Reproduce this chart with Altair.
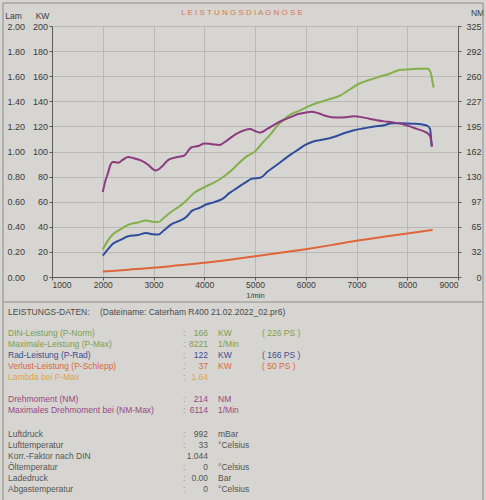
import altair as alt
import pandas as pd

# ---- Leistungskurven (Drehzahl in 1/min, Leistung in KW) ----
rpm_din = [2000, 2100, 2200, 2350, 2500, 2700, 2850, 3000, 3100, 3200, 3350, 3500,
           3650, 3800, 3950, 4100, 4250, 4400, 4550, 4700, 4850, 5000, 5150, 5300,
           5450, 5600, 5750, 5900, 6050, 6250, 6450, 6650, 6850, 7050, 7250, 7450,
           7650, 7850, 8050, 8221, 8400, 8460, 8500, 8520]
din_kw = [22, 29, 34, 38, 41.5, 43.5, 45, 44, 43.8, 47, 52, 56,
          61, 67, 70.5, 73.5, 76.5, 80.5, 85.5, 91.5, 96.5, 100, 107, 113.5,
          121, 126.5, 130.5, 133, 136, 139, 141.5, 144, 149, 154, 157, 159.5,
          162, 165, 165.5, 166, 166, 163, 155, 151]

rpm_rad = [2000, 2100, 2200, 2350, 2500, 2700, 2850, 3000, 3100, 3200, 3350, 3500,
           3650, 3750, 3900, 4050, 4200, 4350, 4500, 4650, 4800, 4950, 5100, 5250,
           5400, 5550, 5700, 5850, 6000, 6150, 6350, 6550, 6750, 6950, 7150, 7350,
           7550, 7700, 7900, 8100, 8300, 8400, 8450, 8480]
rad_kw = [17, 22, 26.5, 29.5, 32.5, 33.5, 35, 34, 33.8, 37, 42, 44.5,
          48, 52.5, 55, 58, 59.7, 62, 67, 71, 75, 78.5, 79, 84,
          88.5, 93, 97.5, 101.5, 105.5, 108, 109.5, 111.5, 114.5, 117, 118.5, 120,
          121, 122.5, 122.5, 122.2, 121.5, 120.5, 118, 104]

rpm_loss = [2000, 2500, 3000, 3500, 4000, 4500, 5000, 5500, 6000, 6500, 7000, 7500, 8000, 8500]
loss_kw = [4.3, 5.8, 7.3, 9.3, 11.3, 13.8, 16.6, 19.3, 22.2, 25.4, 28.8, 31.8, 34.6, 37.5]

# ---- Drehmoment (NM) ----
rpm_nm = [2000, 2050, 2100, 2150, 2200, 2300, 2400, 2500, 2600, 2750, 2900, 3000,
          3050, 3150, 3300, 3450, 3600, 3750, 3900, 4000, 4150, 4300, 4450, 4600,
          4750, 4900, 5000, 5100, 5250, 5400, 5550, 5700, 5850, 6000, 6114, 6250,
          6400, 6600, 6800, 6950, 7100, 7250, 7400, 7550, 7700, 7900, 8050, 8200,
          8350, 8420, 8460, 8490]
torque_nm = [110, 124, 134, 145, 149, 148, 152, 155.5, 154, 151, 145, 139,
             138, 142, 152, 155, 157, 168, 170, 173, 172, 171, 177, 184,
             189, 191.5, 189, 187, 192, 198, 203, 207, 211, 213, 214, 212,
             208.5, 206.5, 207, 208, 207, 205, 203, 201.5, 200.5, 198, 195, 191.5,
             188, 185, 180, 169]

# ---- Achsenteilung ----
rpm_ticks = [1000, 2000, 3000, 4000, 5000, 6000, 7000, 8000, 9000]
kw_ticks = [0, 20, 40, 60, 80, 100, 120, 140, 160, 180, 200]
lam_ticks = [0.0, 0.2, 0.4, 0.6, 0.8, 1.0, 1.2, 1.4, 1.6, 1.8, 2.0]
nm_ticks = [0, 32.5, 65, 97.5, 130, 162.5, 195, 227.5, 260, 292.5, 325]

# ---- Leistungs-Daten ----
data_labels = ["DIN-Leistung (P-Norm)", "Maximale-Leistung (P-Max)", "Rad-Leistung (P-Rad)",
               "Verlust-Leistung (P-Schlepp)", "Lambda bei P-Max",
               "Drehmoment (NM)", "Maximales Drehmoment bei (NM-Max)",
               "Luftdruck", "Lufttemperatur", "Korr.-Faktor nach DIN", "Öltemperatur",
               "Ladedruck", "Abgastemperatur"]
data_values = ["166", "8221", "122", "37", "1.64",
               "214", "6114",
               "992", "33", "1.044", "0", "0.00", "0"]
data_units = ["KW", "1/Min", "KW", "KW", "",
              "NM", "1/Min",
              "mBar", "°Celsius", "", "°Celsius", "Bar", "°Celsius"]
data_ps = ["( 226 PS )", "", "( 166 PS )", "( 50 PS )", "",
           "", "",
           "", "", "", "", "", ""]
data_sep = [":", ":", ":", ":", ":",
            ":", ":",
            ":", ":", "", ":", ":", ":"]
data_colors = ["#7f9f4c", "#7f9f4c", "#3d4c8c", "#d9683c", "#e0a448",
               "#98487f", "#98487f",
               "#555555", "#555555", "#555555", "#555555", "#555555", "#555555"]
block_sizes = [5, 2, 6]

FONT = "Liberation Sans"
PAPER = "#d6d5d1"
GREEN, BLUE, ORANGE, PURPLE = "#83b04b", "#2f4d9c", "#e0653a", "#8d3b7f"
W, H = 406, 251
LEFT, TOP = 52, 26          # plot origin on the page
ROW_STEP = 11
BLOCK_TOPS = [333, 399, 434]

power = pd.concat([
    pd.DataFrame({"rpm": rpm_din, "kw": din_kw, "kurve": "DIN-Leistung"}),
    pd.DataFrame({"rpm": rpm_rad, "kw": rad_kw, "kurve": "Rad-Leistung"}),
    pd.DataFrame({"rpm": rpm_loss, "kw": loss_kw, "kurve": "Verlust-Leistung"}),
], ignore_index=True)
torque = pd.DataFrame({"rpm": rpm_nm, "nm": torque_nm})

# row positions of the data sheet, block by block
py = []
for top, n in zip(BLOCK_TOPS, block_sizes):
    py += [top - TOP + i * ROW_STEP for i in range(n)]
table = pd.DataFrame({"label": data_labels, "wert": data_values, "einheit": data_units,
                      "ps": data_ps, "sep": data_sep, "farbe": data_colors, "py": py})
table["sepfarbe"] = "#8f8f8b"

axis_common = dict(labelFont=FONT, titleFont=FONT, labelColor="#3a3a3a",
                   titleColor="#3a3a3a", domainColor="#5c5c5c", tickColor="#5c5c5c",
                   titleFontWeight="normal")

x_enc = alt.X("rpm:Q", scale=alt.Scale(domain=[1000, 9000], nice=False, zero=False),
              axis=alt.Axis(values=rpm_ticks, title="1/min", format="d",
                            labelFontSize=8.5, titleFontSize=7.5, tickSize=3,
                            labelPadding=0, titlePadding=3, grid=True,
                            gridColor="#b9b9b5", **axis_common))

power_lines = alt.Chart(power).mark_line(strokeWidth=2, interpolate="monotone").encode(
    x=x_enc,
    y=alt.Y("kw:Q", scale=alt.Scale(domain=[0, 200], nice=False),
            axis=alt.Axis(orient="left", values=kw_ticks, title="KW", titleAngle=0,
                          titleX=-10, titleY=-11, titleAlign="center",
                          titleBaseline="middle", titleFontSize=8.5,
                          labelFontSize=9, tickSize=3, labelPadding=1.5,
                          grid=True, gridColor="#b9b9b5", **axis_common)),
    color=alt.Color("kurve:N", legend=None,
                    scale=alt.Scale(domain=["DIN-Leistung", "Rad-Leistung", "Verlust-Leistung"],
                                    range=[GREEN, BLUE, ORANGE])),
    detail="kurve:N",
)

lam_axis = alt.Chart(pd.DataFrame({"lam": lam_ticks})).mark_point(opacity=0).encode(
    y=alt.Y("lam:Q", scale=alt.Scale(domain=[0, 2], nice=False),
            axis=alt.Axis(orient="left", values=lam_ticks, format=".2f", title="Lam",
                          titleAngle=0, titleX=-39, titleY=-11, titleAlign="center",
                          titleBaseline="middle", titleFontSize=8.5,
                          labelFontSize=9, ticks=False, tickSize=0, domain=False,
                          grid=False, labelPadding=27.5, **axis_common)),
)

torque_line = alt.Chart(torque).mark_line(color=PURPLE, strokeWidth=2,
                                          interpolate="monotone").encode(
    x=alt.X("rpm:Q"),
    y=alt.Y("nm:Q", scale=alt.Scale(domain=[0, 325], nice=False),
            axis=alt.Axis(orient="right", values=nm_ticks, labelExpr="floor(datum.value)",
                          title="NM", titleAngle=0, titleX=19, titleY=-14,
                          titleAlign="center", titleBaseline="middle", titleFontSize=8.5,
                          labelFontSize=9, tickSize=3, labelAlign="right",
                          labelPadding=20, grid=False, **axis_common)),
)

one = alt.Data(values=[{}])

title_text = alt.Chart(one).mark_text(
    font=FONT, fontSize=8, color="#d27a4e", align="center", baseline="middle").encode(
    x=alt.value(190), y=alt.value(-13),
    text=alt.value("L E I S T U N G S D I A G N O S E"))

frame = alt.Chart(one).mark_rect(fill=None, stroke="#8c8c8a", strokeWidth=1).encode(
    x=alt.value(-49), x2=alt.value(431), y=alt.value(-23), y2=alt.value(475))
divider = alt.Chart(one).mark_rule(color="#8c8c8a", strokeWidth=1).encode(
    x=alt.value(-49), x2=alt.value(431), y=alt.value(276))

head_left = alt.Chart(one).mark_text(font=FONT, fontSize=8.5, color="#4a4a4a",
                                     align="left", baseline="middle").encode(
    x=alt.value(-44), y=alt.value(312 - TOP), text=alt.value("LEISTUNGS-DATEN:"))
head_file = alt.Chart(one).mark_text(font=FONT, fontSize=8.5, color="#4a4a4a",
                                     align="left", baseline="middle").encode(
    x=alt.value(48), y=alt.value(312 - TOP),
    text=alt.value("(Dateiname: Caterham R400 21.02.2022_02.pr6)"))


def table_column(field, xpos, align, color_field="farbe"):
    return alt.Chart(table).mark_text(font=FONT, fontSize=8.5, align=align,
                                      baseline="middle").encode(
        x=alt.value(xpos),
        y=alt.Y("py:Q", scale=None, axis=None),
        text=alt.Text(f"{field}:N"),
        color=alt.Color(f"{color_field}:N", scale=None),
    )


chart = alt.layer(
    power_lines,
    torque_line,
    lam_axis,
    title_text,
    frame,
    divider,
    head_left,
    head_file,
    table_column("label", -44, "left"),
    table_column("sep", 131, "left", "sepfarbe"),
    table_column("wert", 156, "right"),
    table_column("einheit", 166, "left"),
    table_column("ps", 210, "left"),
).resolve_scale(
    y="independent", color="independent"
).properties(
    width=W, height=H,
    autosize=alt.AutoSizeParams(type="none"),
    padding={"left": LEFT, "top": TOP, "right": 486 - LEFT - W, "bottom": 500 - TOP - H},
    background=PAPER,
).configure_view(
    stroke="#6a6a6a", fill=PAPER
)

chart.save("out.html", embed_options={"renderer": "svg", "actions": False})
